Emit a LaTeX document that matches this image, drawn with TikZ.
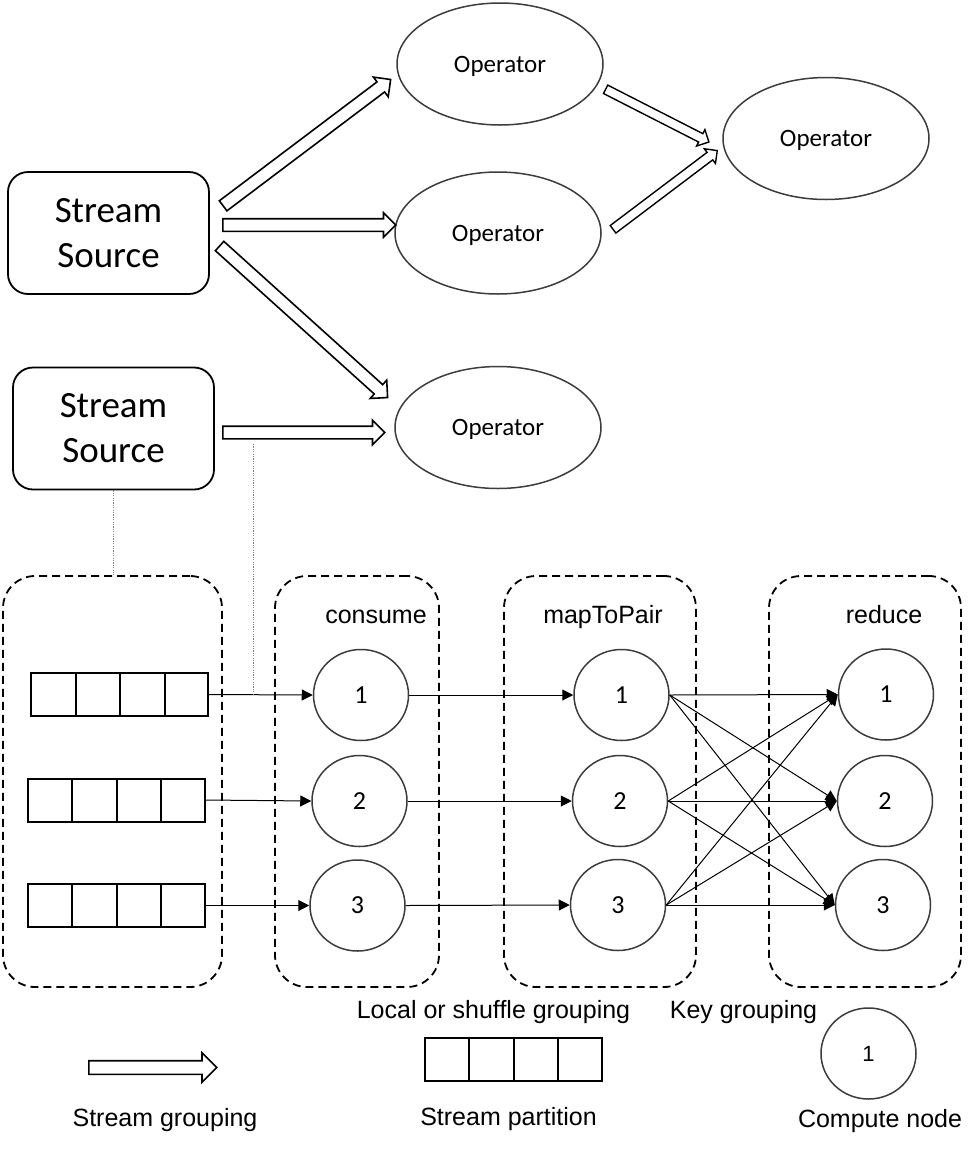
\documentclass[tikz,border=0pt]{standalone}
\usepackage{fontspec}
\setmainfont{Carlito}
\newfontfamily\arialf{Liberation Sans}
\usetikzlibrary{shapes.geometric,shapes.arrows,arrows.meta,calc}
\definecolor{edgegray}{RGB}{60,60,60}
\newcommand\blkarrow[3][]{%
  \path let \p1=#2, \p2=#3, \n1={atan2(\y2-\y1,\x2-\x1)}, \n2={veclen(\x2-\x1,\y2-\y1)} in
    node[blockarrow,#1,rotate=\n1,minimum height=\n2,anchor=tail] at #2 {};}
\begin{document}
\begin{tikzpicture}[x=1pt,y=-1pt,
  ssbox/.style={draw, line width=1.8pt, rounded corners=20pt, minimum width=201pt, minimum height=122pt, align=center, inner sep=0pt, font=\fontsize{37}{45}\selectfont},
  opnode/.style={ellipse, draw=edgegray, line width=1.5pt, minimum width=206pt, minimum height=122pt, inner sep=0pt, text depth=0pt, font=\fontsize{25}{28}\selectfont},
  blockarrow/.style={single arrow, draw, fill=white, line width=1.6pt, inner xsep=0pt, inner ysep=5.5pt, single arrow head extend=6pt, single arrow tip angle=90, minimum width=0pt},
  thinarrow/.style={inner ysep=4pt, single arrow head extend=4.5pt, line width=1.4pt},
  legarrow/.style={inner ysep=6pt, single arrow head extend=8pt},
  grp/.style={draw, line width=1.8pt, dash pattern=on 8pt off 5pt, rounded corners=32pt, minimum height=411pt, inner sep=0pt},
  lbl/.style={inner sep=0pt, font=\arialf\fontsize{25}{28}\selectfont},
  part/.style={draw, line width=2pt, minimum width=177pt, minimum height=43pt, inner sep=0pt,
    path picture={\foreach \k in {1,2,3}{\draw[line width=2pt] ([xshift=\k*44.5pt]path picture bounding box.south west) -- ([xshift=\k*44.5pt]path picture bounding box.north west);}}},
  cnode/.style={ellipse, draw=edgegray, line width=1.5pt, minimum width=95pt, minimum height=91pt, inner sep=0pt, text depth=0pt, font=\fontsize{26}{28}\selectfont},
  conn/.style={line width=1pt, -{Triangle[length=11pt,width=11pt]}},
  dotl/.style={draw=gray, line width=0.9pt, dash pattern=on 1.2pt off 1.2pt}
]
\useasboundingbox (0,0) rectangle (978,1152);

% top part
\node[ssbox] (ss1) at (108.5,233) {Stream\\Source};
\node[ssbox] (ss2) at (113.5,428.5) {Stream\\Source};
\node[opnode] (op1) at (500,64) {Operator};
\node[opnode] (op2) at (498,233) {Operator};
\node[opnode] (op3) at (498,427.5) {Operator};
\node[opnode] (op4) at (826,138.5) {Operator};

\coordinate (b1s) at (222.5,206.3); \coordinate (b1t) at (390,80);
\coordinate (b2s) at (222,225);     \coordinate (b2t) at (395,225);
\coordinate (b3s) at (219,245.5);   \coordinate (b3t) at (387,397);
\coordinate (b4s) at (222,432.5);   \coordinate (b4t) at (384,432.5);
\coordinate (b5s) at (605,89);      \coordinate (b5t) at (708.3,141.7);
\coordinate (b6s) at (612.5,229.7); \coordinate (b6t) at (716.7,151);
\blkarrow{(b1s)}{(b1t)}
\blkarrow{(b2s)}{(b2t)}
\blkarrow{(b3s)}{(b3t)}
\blkarrow{(b4s)}{(b4t)}
\blkarrow[thinarrow]{(b5s)}{(b5t)}
\blkarrow[thinarrow]{(b6s)}{(b6t)}

% groups
\node[grp, minimum width=219pt] (g0) at (112.5,781.5) {};
\node[grp, minimum width=164pt] (g1) at (357,781.5) {};
\node[grp, minimum width=192pt] (g2) at (600,781.5) {};
\node[grp, minimum width=192pt] (g3) at (865,781.5) {};
\node[lbl, anchor=base] (lcons) at (376,623) {consume};
\node[lbl, anchor=base] (lmap) at (603,623) {mapToPair};
\node[lbl, anchor=base] (lred) at (884,623) {reduce};

% partitions
\node[part] (p1) at (119.5,694.5) {};
\node[part] (p2) at (116,800) {};
\node[part] (p3) at (116,905.5) {};

% compute nodes
\node[cnode] (c1) at (361,695) {1};
\node[cnode] (c2) at (359.5,801) {2};
\node[cnode] (c3) at (357.5,905.5) {3};
\node[cnode] (m1) at (621.5,695) {1};
\node[cnode] (m2) at (620,801) {2};
\node[cnode] (m3) at (618,905) {3};
\node[cnode] (r1) at (886,694.5) {1};
\node[cnode] (r2) at (885,801) {2};
\node[cnode] (r3) at (883,905) {3};

\foreach \i in {1,2,3}{
  \draw[conn] (p\i.east) -- (c\i.west);
  \draw[conn] (c\i.east) -- (m\i.west);
  \foreach \j in {1,2,3}{\draw[conn] (m\i.east) -- (r\j.west);}
}

% dotted links
\draw[dotl] (ss2.south) -- (ss2.south |- g0.north);
\coordinate (dtop) at (253,444);
\draw[dotl] (dtop) -- (dtop |- p1.east);

% legend
\node[lbl, anchor=base] (tl) at (493.5,1018) {Local or shuffle grouping};
\node[lbl, anchor=base] (tk) at (743.5,1018) {Key grouping};
\coordinate (lgs) at (88,1067.5); \coordinate (lgt) at (216,1067.5);
\blkarrow[legarrow]{(lgs)}{(lgt)}
\node[part] (pl) at (513,1059.5) {};
\node[cnode, font=\arialf\fontsize{22}{26}\selectfont] (cl) at (868.5,1053.5) {1};
\node[lbl, anchor=base] (ts) at (165,1126) {Stream grouping};
\node[lbl, anchor=base] (tp) at (508.5,1125) {Stream partition};
\node[lbl, anchor=base] (tc) at (880,1127) {Compute node};
\end{tikzpicture}
\end{document}
